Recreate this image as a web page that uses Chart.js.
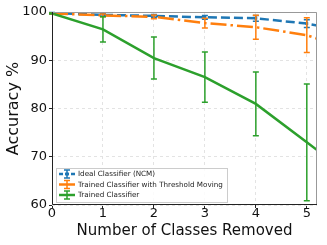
<!DOCTYPE html>
<html>
<head>
<meta charset="UTF-8">
<script src="https://cdn.jsdelivr.net/npm/chart.js"></script>
<style>
  html, body { margin: 0; padding: 0; background: #fff; }
  #wrap { width: 327px; height: 245px; }
</style>
</head>
<body>
<div id="wrap"><canvas id="grafico" width="327" height="245"></canvas></div>
<script>
// dados
var classesRemovidas = [0, 1, 2, 3, 4, 5, 6];
var ncm = [99.8, 99.4, 99.2, 98.9, 98.7, 97.6, 95.6];
var ncmErro = [0.1, 0.3, 0.3, 0.4, 0.6, 0.8, 1.0];
var threshold = [99.7, 99.3, 99.0, 97.7, 96.85, 95.2, 91.6];
var thresholdErro = [0.1, 0.3, 0.4, 1.0, 2.5, 3.6, 4.0];
var treinado = [99.7, 96.4, 90.45, 86.5, 80.95, 73.0, 65.0];
var treinadoErro = [0.1, 2.6, 4.35, 5.2, 6.6, 12.1, 13.0];
var xTicks = [0, 1, 2, 3, 4, 5];
var yTicks = [60, 70, 80, 90, 100];
var nomes = ["Ideal Classifier (NCM)", "Trained Classifier with Threshold Moving", "Trained Classifier"];
var cores = ["#1f77b4", "#ff7f0e", "#2ca02c"];
var tracos = [[9, 4], [16, 4, 2.5, 4], []];

function pontos(valores) {
  return classesRemovidas.map(function (x, i) { return { x: x, y: valores[i] }; });
}

var erros = [ncmErro, thresholdErro, treinadoErro];

// desenha as barras de erro usando as escalas do chart
var barrasErro = {
  id: "barrasErro",
  afterDatasetsDraw: function (chart) {
    var ctx = chart.ctx;
    var sx = chart.scales.x, sy = chart.scales.y;
    ctx.save();
    chart.data.datasets.forEach(function (ds, d) {
      ds.data.forEach(function (p, i) {
        if (p.x > sx.max) return;
        var px = sx.getPixelForValue(p.x);
        var top = sy.getPixelForValue(p.y + erros[d][i]);
        var bot = sy.getPixelForValue(p.y - erros[d][i]);
        ctx.strokeStyle = cores[d];
        ctx.lineWidth = 1.5;
        ctx.setLineDash([]);
        ctx.beginPath();
        ctx.moveTo(px, top); ctx.lineTo(px, bot);
        ctx.moveTo(px - 3, top); ctx.lineTo(px + 3, top);
        ctx.moveTo(px - 3, bot); ctx.lineTo(px + 3, bot);
        ctx.stroke();
      });
    });
    ctx.restore();
  }
};

// moldura + legenda
var moldura = {
  id: "moldura",
  afterDraw: function (chart) {
    var ctx = chart.ctx;
    var a = chart.chartArea;
    ctx.save();
    ctx.setLineDash([]);
    ctx.lineWidth = 1;
    ctx.strokeStyle = "#999";
    ctx.beginPath();
    ctx.moveTo(a.left, a.top + 0.5); ctx.lineTo(a.right - 0.5, a.top + 0.5); ctx.lineTo(a.right - 0.5, a.bottom);
    ctx.stroke();
    ctx.strokeStyle = "#222";
    ctx.beginPath();
    ctx.moveTo(a.left + 0.5, a.top); ctx.lineTo(a.left + 0.5, a.bottom - 0.5); ctx.lineTo(a.right, a.bottom - 0.5);
    ctx.stroke();

    // legenda
    var lx = a.left + 4, ly = a.bottom - 37, lw = 171, lh = 34;
    ctx.fillStyle = "rgba(255,255,255,0.85)";
    ctx.fillRect(lx, ly, lw, lh);
    ctx.strokeStyle = "#ccc";
    ctx.strokeRect(lx + 0.5, ly + 0.5, lw, lh);
    ctx.font = "7.2px 'DejaVu Sans'";
    ctx.textBaseline = "middle";
    for (var k = 0; k < 3; k++) {
      var yy = ly + 6 + k * 10.5;
      ctx.strokeStyle = cores[k];
      ctx.lineWidth = 2.5;
      ctx.setLineDash(k == 0 ? [4, 2] : []);
      ctx.beginPath(); ctx.moveTo(lx + 3, yy); ctx.lineTo(lx + 19, yy); ctx.stroke();
      ctx.setLineDash([]);
      ctx.lineWidth = 1.5;
      ctx.beginPath();
      ctx.moveTo(lx + 11, yy - 4); ctx.lineTo(lx + 11, yy + 4);
      ctx.moveTo(lx + 8, yy - 4); ctx.lineTo(lx + 14, yy - 4);
      ctx.moveTo(lx + 8, yy + 4); ctx.lineTo(lx + 14, yy + 4);
      ctx.stroke();
      if (k == 0) { ctx.fillStyle = cores[k]; ctx.fillRect(lx + 9.5, yy - 1.5, 3, 3); }
      ctx.fillStyle = "#222";
      ctx.fillText(nomes[k], lx + 22, yy + 0.5);
    }
    ctx.restore();
  }
};

new Chart(document.getElementById("grafico"), {
  type: "line",
  data: {
    datasets: [0, 1, 2].map(function (k) {
      return {
        label: nomes[k],
        data: pontos([ncm, threshold, treinado][k]),
        borderColor: cores[k],
        backgroundColor: cores[k],
        borderWidth: 2.5,
        borderDash: tracos[k],
        pointRadius: k == 0 ? 2 : 0,
        pointStyle: "rect",
        pointBorderWidth: 0,
        tension: 0,
        order: 3 - k
      };
    })
  },
  options: {
    responsive: false,
    animation: false,
    layout: { padding: { top: 12, right: 10, left: 0, bottom: 0 } },
    plugins: { legend: { display: false }, tooltip: { enabled: false } },
    scales: {
      x: {
        type: "linear",
        min: 0, max: 5.2,
        afterBuildTicks: function (s) { s.ticks = xTicks.map(function (v) { return { value: v }; }); },
        afterFit: function (s) { s.height = 40; },
        grid: { color: "#e3e3e3", drawTicks: true, tickLength: 3, tickColor: "#222", tickBorderDash: [] },
        border: { display: false, dash: [3, 3] },
        ticks: { color: "#111", font: { family: "DejaVu Sans", size: 13 }, padding: -2, maxRotation: 0 },
        title: { display: true, text: "Number of Classes Removed", color: "#111", font: { family: "DejaVu Sans", size: 15 }, padding: { top: 0, bottom: 5 } }
      },
      y: {
        min: 60, max: 100,
        afterBuildTicks: function (s) { s.ticks = yTicks.map(function (v) { return { value: v }; }); },
        afterFit: function (s) { s.width = 52; },
        grid: { color: "#e3e3e3", tickLength: 3, tickColor: "#222" },
        border: { display: false, dash: [3, 3] },
        ticks: { color: "#111", font: { family: "DejaVu Sans", size: 13 }, padding: 2 },
        title: { display: true, text: "Accuracy %", color: "#111", font: { family: "DejaVu Sans", size: 16 }, padding: { bottom: 0 } }
      }
    }
  },
  plugins: [barrasErro, moldura]
});
</script>
</body>
</html>
